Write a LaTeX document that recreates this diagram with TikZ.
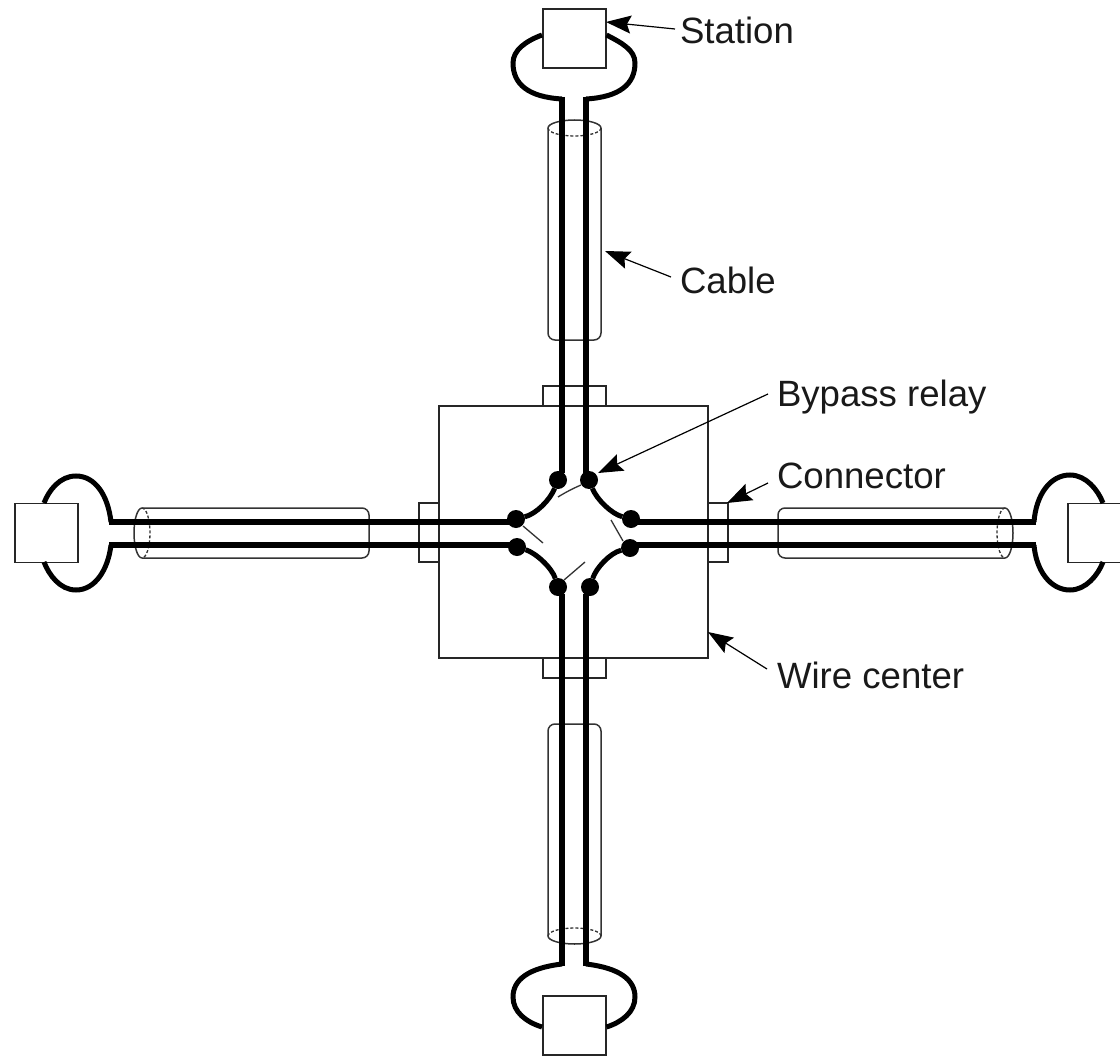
\documentclass[tikz,border=0pt]{standalone}
\usepackage{fontspec}
\setmainfont{Liberation Sans}
\usetikzlibrary{arrows.meta}
\tikzset{
  every node/.style={inner sep=0pt,outer sep=0pt},
  thinbox/.style={draw=black!85,line width=1.5pt,fill=white},
  wire/.style={draw=black,line width=5.5pt,line join=miter},
  loopline/.style={draw=black,line width=5pt},
  relaywire/.style={draw=black,line width=5pt},
  cablel/.style={draw=black!80,line width=1.5pt},
  cabled/.style={draw=black!80,line width=1.3pt,densely dashed},
  relayline/.style={draw=black!80,line width=1.3pt},
  relaydot/.style={circle,fill=black,minimum size=18pt},
  lab/.style={font=\fontsize{36.6}{37}\selectfont,text=black!90,anchor=base west},
  pointer/.style={draw=black,line width=1.2pt,-{Stealth[length=25pt,width=18pt,inset=4pt]}}
}
\begin{document}
\begin{tikzpicture}[x=1pt,y=-1pt]
\useasboundingbox (0,0) rectangle (1120,1057);
% connectors
\node[thinbox,minimum width=63pt,minimum height=20pt] (ctop) at (574.5,396) {};
\node[thinbox,minimum width=63pt,minimum height=20pt] (cbot) at (574.5,668) {};
\node[thinbox,minimum width=20pt,minimum height=59pt] (cleft) at (429,532.5) {};
\node[thinbox,minimum width=20pt,minimum height=59pt] (cright) at (718,532.5) {};
% wire centre
\node[thinbox,minimum width=269pt,minimum height=252pt] (wc) at (573.5,532) {};
% cables
\draw[cablel,rounded corners=7pt] (548,128) -- (548,340) -- (601,340) -- (601,128);
\draw[cablel] (548,128) arc[start angle=180,end angle=360,x radius=26.5,y radius=8];
\draw[cabled] (548,128) arc[start angle=180,end angle=0,x radius=26.5,y radius=8];
\draw[cablel,rounded corners=7pt] (548,936) -- (548,724) -- (601,724) -- (601,936);
\draw[cablel] (548,936) arc[start angle=180,end angle=0,x radius=26.5,y radius=8];
\draw[cabled] (548,936) arc[start angle=180,end angle=360,x radius=26.5,y radius=8];
\draw[cablel,rounded corners=7pt] (142,508) -- (369,508) -- (369,558) -- (142,558);
\draw[cablel] (142,508) arc[start angle=270,end angle=90,x radius=8,y radius=25];
\draw[cabled] (142,508) arc[start angle=270,end angle=450,x radius=8,y radius=25];
\draw[cablel,rounded corners=7pt] (1005,508) -- (778,508) -- (778,558) -- (1005,558);
\draw[cablel] (1005,508) arc[start angle=270,end angle=450,x radius=8,y radius=25];
\draw[cabled] (1005,508) arc[start angle=270,end angle=90,x radius=8,y radius=25];
% relay dots
\node[relaydot] (dtl) at (558,480) {};
\node[relaydot] (dtr) at (589,480) {};
\node[relaydot] (dlu) at (516,519) {};
\node[relaydot] (dll) at (517,547) {};
\node[relaydot] (dru) at (631,519) {};
\node[relaydot] (drl) at (630,548) {};
\node[relaydot] (dbl) at (558,587) {};
\node[relaydot] (dbr) at (590,587) {};
% stations
\node[thinbox,minimum width=63pt,minimum height=59pt] (stop) at (574.5,38.5) {};
\node[thinbox,minimum width=63pt,minimum height=59pt] (sbot) at (574.5,1025.5) {};
\node[thinbox,minimum width=63pt,minimum height=59pt] (sleft) at (46.5,533) {};
\node[thinbox,minimum width=63pt,minimum height=59pt] (sright) at (1099.5,533) {};
% wires
\coordinate (tl) at (562,99);
\coordinate (tr) at (586,99);
\coordinate (bl) at (562,964);
\coordinate (br) at (586,964);
\coordinate (lu) at (111,522);
\coordinate (ll) at (111,545);
\coordinate (ru) at (1034,522);
\coordinate (rl) at (1034,545);
\draw[wire] (562,97) -- (562,473);
\draw[wire] (586,97) -- (586,473);
\draw[wire] (562,966) -- (562,594);
\draw[wire] (586,966) -- (586,594);
\draw[wire] (109,522) -- (510,522);
\draw[wire] (109,545) -- (510,545);
\draw[wire] (1036,522) -- (637,522);
\draw[wire] (1036,545) -- (637,545);
% station loops
\draw[loopline] (tl) .. controls (528,97) and (513,84) .. (513,63) .. controls (513,50) and (526,41) .. (542,35);
\draw[loopline] (tr) .. controls (620,97) and (635,84) .. (635,63) .. controls (635,50) and (622,43) .. (606.5,35);
\draw[loopline] (bl) .. controls (528,968) and (513,980) .. (513,997) .. controls (513,1012) and (526,1022) .. (542,1027);
\draw[loopline] (br) .. controls (620,968) and (635,980) .. (635,997) .. controls (635,1012) and (622,1022) .. (606.5,1027);
\draw[loopline] (lu) .. controls (108,495) and (95,476) .. (76,476) .. controls (60,476) and (49,490) .. (44,503);
\draw[loopline] (ll) .. controls (108,570) and (95,590) .. (76,590) .. controls (60,590) and (49,575) .. (44,562);
\draw[loopline] (ru) .. controls (1036,495) and (1050,475) .. (1070,475) .. controls (1086,475) and (1098,490) .. (1103,503);
\draw[loopline] (rl) .. controls (1036,570) and (1050,590) .. (1070,590) .. controls (1086,590) and (1098,575) .. (1103,562);
% relay curved wires
\draw[relaywire] (dtl) .. controls (550,500) and (536,514) .. (dlu);
\draw[relaywire] (dtr) .. controls (597,500) and (612,514) .. (dru);
\draw[relaywire] (dll) .. controls (536,553) and (552,568) .. (dbl);
\draw[relaywire] (drl) .. controls (610,553) and (596,568) .. (dbr);
% open relay contacts
\coordinate (c1) at (558,497);
\coordinate (c2) at (543,543);
\coordinate (c3) at (611,520);
\coordinate (c4) at (585,562);
\coordinate (o1) at (581,485);
\coordinate (o2) at (523,526);
\coordinate (o3) at (623,541);
\coordinate (o4) at (564,580);
\draw[relayline] (o1) .. controls (574,488) and (566,492) .. (c1);
\draw[relayline] (o2) -- (c2);
\draw[relayline] (o3) -- (c3);
\draw[relayline] (o4) -- (c4);
% labels
\node[lab] (lstation) at (680,44) {Station};
\node[lab] (lcable) at (680,293) {Cable};
\node[lab] (lbypass) at (777,406) {Bypass relay};
\node[lab] (lconn) at (777,488) {Connector};
\node[lab] (lwire) at (777,688) {Wire center};
% pointers
\coordinate (a1) at (606,22);
\coordinate (a2) at (605,251);
\coordinate (a3) at (598,473);
\coordinate (a4) at (727,503);
\coordinate (a5) at (708,632);
\coordinate (t1) at (675,29);
\coordinate (t2) at (671,277);
\coordinate (t3) at (768,394);
\coordinate (t4) at (768,483);
\coordinate (t5) at (767,669);
\draw[pointer] (t1) -- (a1);
\draw[pointer] (t2) -- (a2);
\draw[pointer] (t3) -- (a3);
\draw[pointer] (t4) -- (a4);
\draw[pointer] (t5) -- (a5);
\end{tikzpicture}
\end{document}
